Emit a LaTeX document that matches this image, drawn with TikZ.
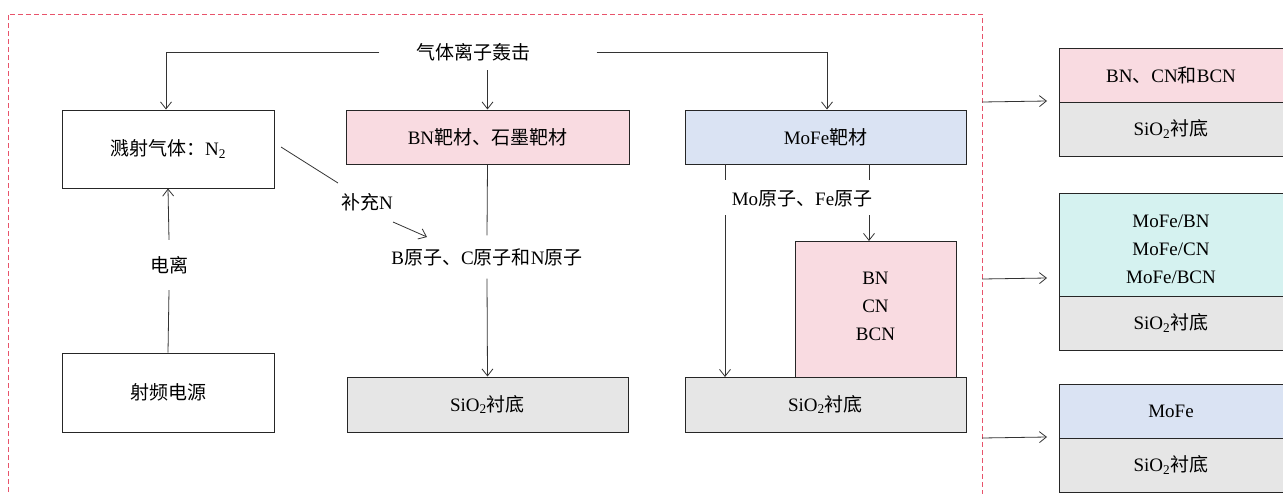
\documentclass[tikz,border=0pt]{standalone}
\usepackage{fontspec}
\setmainfont{Liberation Serif}
\newfontfamily\cjk{Noto Sans CJK SC}
\newcommand\zhtxt[1]{{\cjk #1}}
\usetikzlibrary{arrows.meta}
\definecolor{pinkf}{RGB}{249,219,225}
\definecolor{bluef}{RGB}{218,227,243}
\definecolor{cyanf}{RGB}{213,242,240}
\definecolor{grayf}{RGB}{230,230,230}
\definecolor{dashred}{RGB}{232,83,107}
\tikzset{
  every node/.style={font=\fontsize{19}{28}\selectfont},
  box/.style={draw=black!85, line width=1pt, inner sep=0pt, align=center},
  lbl/.style={inner sep=0pt, align=center},
  conn/.style={line width=0.8pt, draw=black!80},
  arr/.style={conn, -{Straight Barb[length=7pt,width=11pt]}},
}
\begin{document}
\begin{tikzpicture}[x=1pt,y=-1pt]
\useasboundingbox (0,0) rectangle (1283,493);
% dashed frame
\draw[dashred, line width=0.8pt, dash pattern=on 5pt off 3pt] (8,500) -- (8,14) -- (982,14) -- (982,500);

% nodes
\node[lbl] (g) at (473.5,52) {\zhtxt{气体离子轰击}};
\node[box, minimum width=212, minimum height=78] (sp) at (168,149) {\zhtxt{溅射气体：}N\textsubscript{2}};
\node[box, fill=pinkf, minimum width=283, minimum height=54] (bn) at (487.5,137) {BN\zhtxt{靶材、石墨靶材}};
\node[box, fill=bluef, minimum width=281, minimum height=54] (mo) at (825.5,137) {MoFe\zhtxt{靶材}};
\node[box, minimum width=212, minimum height=79] (rf) at (168,392.5) {\zhtxt{射频电源}};
\node[lbl, minimum height=50] (dl) at (169,265) {\zhtxt{电离}};
\node[lbl] (bc) at (367,202) {\zhtxt{补充}N};
\node[lbl, minimum height=43] (at) at (487,257) {B\zhtxt{原子、}C\zhtxt{原子和}N\zhtxt{原子}};
\node[box, fill=grayf, minimum width=281, minimum height=55] (s1) at (487.5,404.5) {SiO\textsubscript{2}\zhtxt{衬底}};
\node[box, fill=grayf, minimum width=281, minimum height=55] (s2) at (825.5,404.5) {SiO\textsubscript{2}\zhtxt{衬底}};
\node[box, fill=pinkf, minimum width=161, minimum height=136] (pt) at (875.5,309) {};
\node[lbl] (ptt) at (875.5,306.5) {BN\\CN\\BCN};
\node[lbl] (mf) at (802,199) {Mo\zhtxt{原子、}Fe\zhtxt{原子}};

% right result stacks
\node[box, fill=pinkf, minimum width=224, minimum height=54] (r1a) at (1171,75) {BN\zhtxt{、}CN\zhtxt{和}BCN};
\node[box, fill=grayf, minimum width=224, minimum height=54] (r1b) at (1171,129) {SiO\textsubscript{2}\zhtxt{衬底}};
\node[box, fill=cyanf, minimum width=224, minimum height=103] (r2a) at (1171,244.5) {};
\node[lbl] (r2t) at (1171,249.5) {MoFe/BN\\MoFe/CN\\MoFe/BCN};
\node[box, fill=grayf, minimum width=224, minimum height=54] (r2b) at (1171,323) {SiO\textsubscript{2}\zhtxt{衬底}};
\node[box, fill=bluef, minimum width=224, minimum height=54] (r3a) at (1171,411) {MoFe};
\node[box, fill=grayf, minimum width=224, minimum height=54] (r3b) at (1171,465) {SiO\textsubscript{2}\zhtxt{衬底}};

% top connectors
\draw[arr] ([xshift=-37pt]g.west) -| ([xshift=-2pt]sp.north);
\draw[arr] ([xshift=66pt]g.east) -| ([xshift=1.5pt]mo.north);
\draw[arr] (bn.north |- 0,70) -- (bn.north);

% ionisation
\draw[conn] (rf.north) -- (dl.south);
\draw[arr] (dl.north) -- (sp.south);

% supplementary N
\coordinate (n1) at (281,147);
\coordinate (n2) at (338,183);
\coordinate (n3) at (393,222);
\coordinate (n4) at (427,237);
\draw[conn] (n1) -- (n2);
\draw[arr] (n3) -- (n4);

% atoms to substrate
\draw[conn] (bn.south) -- (at.north);
\draw[arr] (at.south) -- (s1.north);

% Mo/Fe atoms
\coordinate (m1) at (725,164);
\coordinate (m2) at (869,164);
\draw[conn] (m1) -- (725,180);
\draw[conn] (m2) -- (869,180);
\draw[arr] (725,215) -- (725 ,377);
\draw[arr] (869,215) -- (869,241);

% results arrows
\draw[arr] (982,102) -- (1047,101);
\draw[arr] (982,279) -- (1047,278);
\draw[arr] (982,438) -- (1047,437);
\end{tikzpicture}
\end{document}
